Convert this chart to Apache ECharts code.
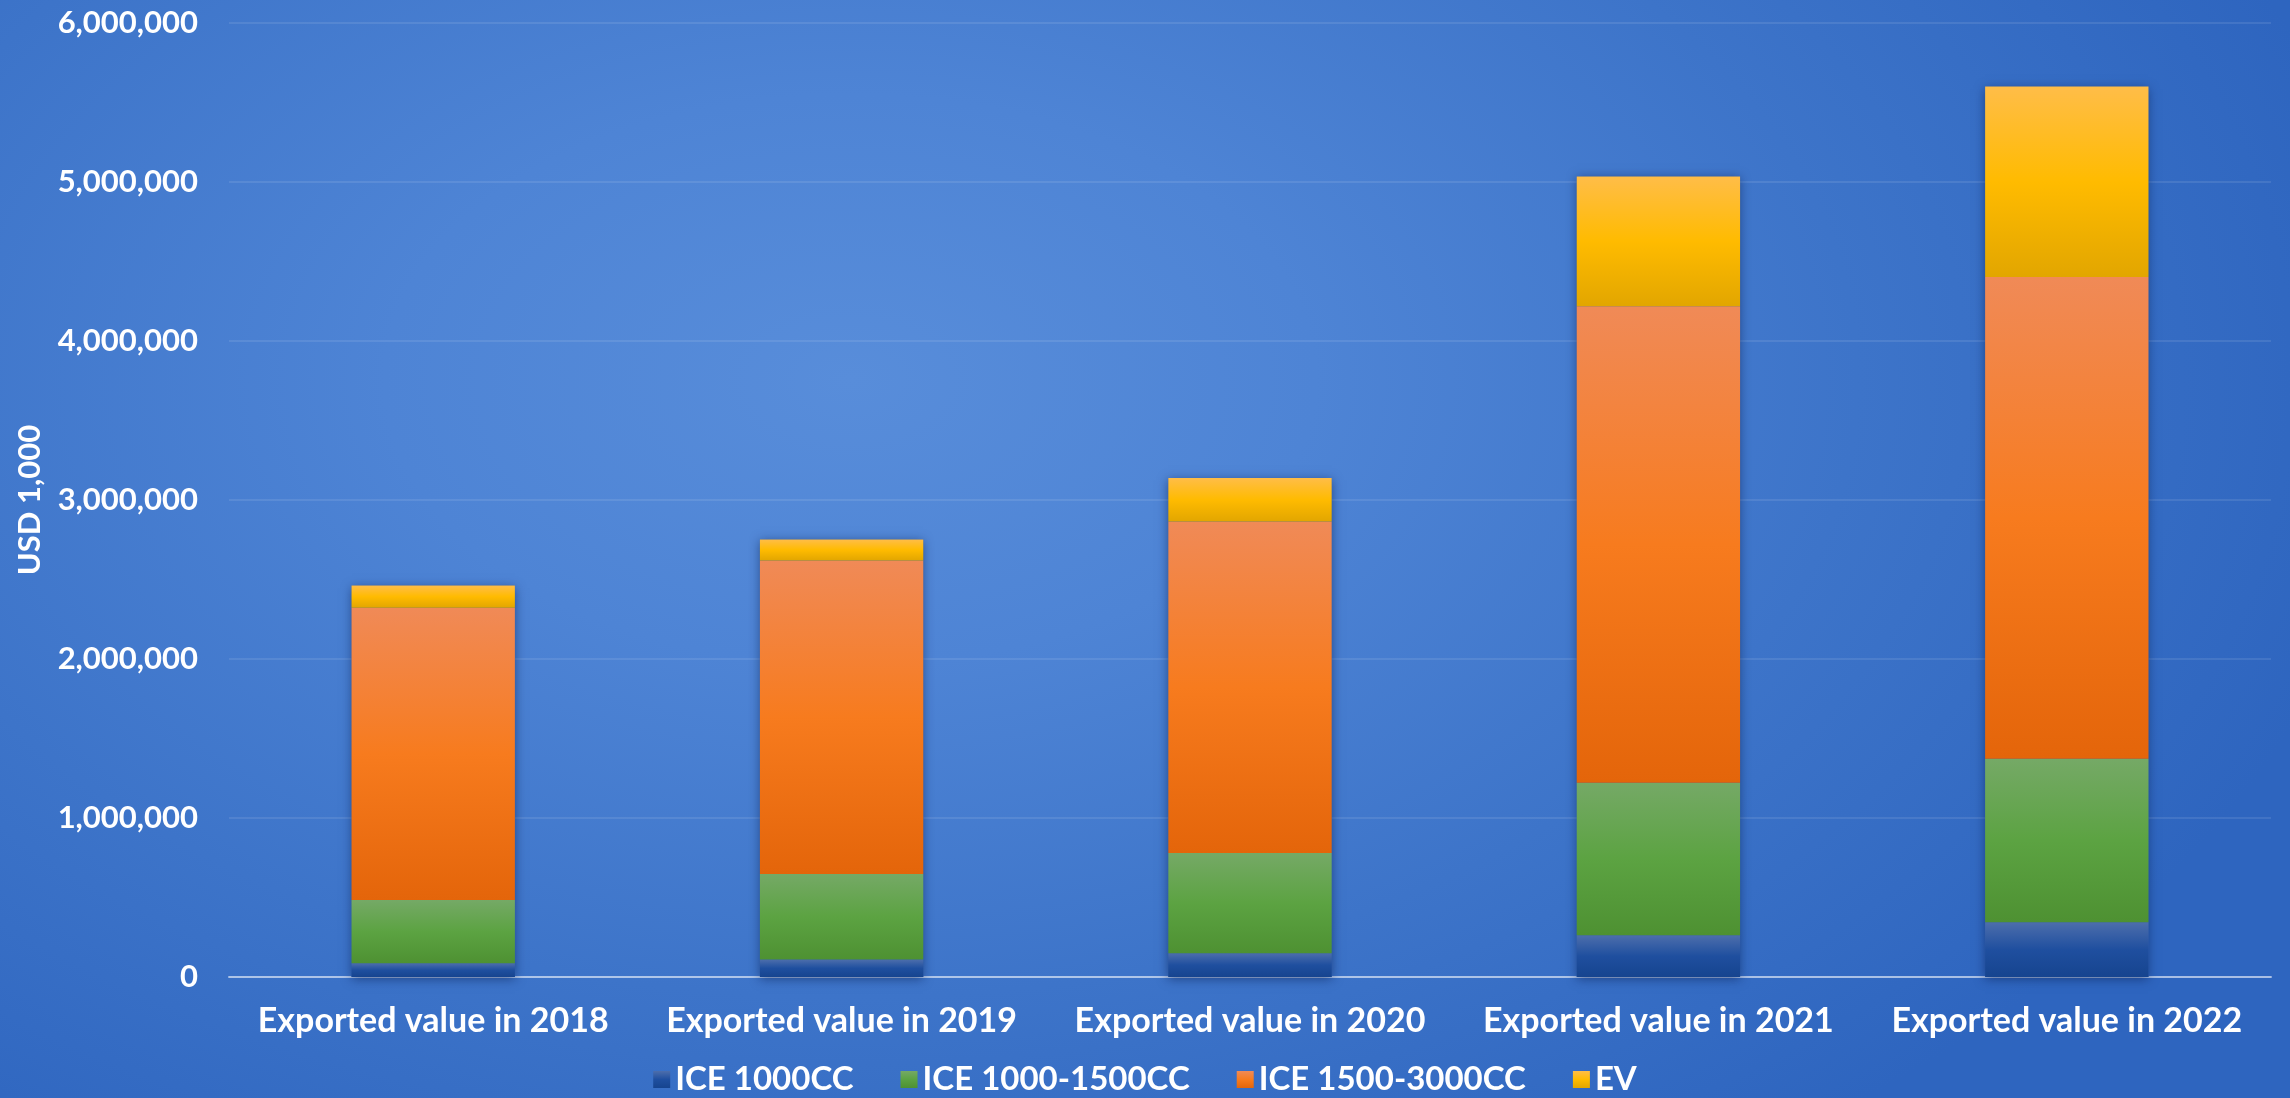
<!DOCTYPE html>
<html>
<head>
<meta charset="utf-8">
<script src="https://cdn.jsdelivr.net/npm/echarts@6/dist/echarts.min.js"></script>
<style>
  html, body { margin: 0; padding: 0; }
  body {
    width: 2290px; height: 1098px; overflow: hidden;
    background: radial-gradient(ellipse 1550px 950px at 850px 380px,
      #588dda 0%, #4e84d5 30%, #3d74c9 65%, #2e65bf 100%);
  }
  #chart { width: 2290px; height: 1098px; }
</style>
</head>
<body>
<div id="chart"></div>
<script>
// Export value by engine class, USD 1,000
const categories = [
  'Exported value in 2018',
  'Exported value in 2019',
  'Exported value in 2020',
  'Exported value in 2021',
  'Exported value in 2022'
];
const seriesNames = ['ICE 1000CC', 'ICE 1000-1500CC', 'ICE 1500-3000CC', 'EV'];
const ice1000 = [87000, 110000, 150000, 263000, 345000];
const ice1000to1500 = [397000, 538000, 630000, 959000, 1027000];
const ice1500to3000 = [1838000, 1972000, 2084000, 2996000, 3030000];
const ev = [140000, 132000, 275000, 817000, 1198000];
const yMin = 0, yMax = 6000000, yStep = 1000000;

const font = 'Lato, "Open Sans", sans-serif';

function vgrad(stops) {
  return new echarts.graphic.LinearGradient(0, 0, 0, 1,
    stops.map((c, i) => ({ offset: i / (stops.length - 1), color: c })));
}
const fills = [
  vgrad(['#4d6eac', '#1f4f9f', '#16448f']),
  vgrad(['#75a966', '#5ca342', '#4e9132']),
  vgrad(['#f08a57', '#f77b1e', '#e4650a']),
  vgrad(['#ffbd48', '#ffbb00', '#e2a600'])
];
const values = [ice1000, ice1000to1500, ice1500to3000, ev];
const totals = categories.map((_, i) => values.reduce((s, arr) => s + arr[i], 0));

const chart = echarts.init(document.getElementById('chart'));

const stacked = seriesNames.map((name, k) => ({
  name: name,
  type: 'bar',
  stack: 'total',
  barWidth: '40%',
  barGap: '-100%',
  z: 3,
  data: values[k],
  itemStyle: { color: fills[k] },
  emphasis: { disabled: true }
}));

chart.setOption({
  backgroundColor: 'transparent',
  animation: false,
  grid: { left: 229, right: 19, top: 23, bottom: 121 },
  legend: {
    data: seriesNames,
    bottom: -3,
    left: 'center',
    icon: 'rect',
    itemWidth: 17,
    itemHeight: 17,
    itemGap: 47,
    textStyle: { color: '#ffffff', fontFamily: font, fontWeight: 'bold', fontSize: 33 }
  },
  xAxis: {
    type: 'category',
    data: categories,
    axisTick: { show: false },
    axisLine: { lineStyle: { color: 'rgba(255,255,255,0.55)', width: 2 } },
    axisLabel: {
      interval: 0,
      color: '#ffffff', fontFamily: font, fontWeight: 'bold', fontSize: 34, margin: 27
    }
  },
  yAxis: {
    type: 'value',
    min: yMin,
    max: yMax,
    interval: yStep,
    name: 'USD 1,000',
    nameLocation: 'middle',
    nameGap: 184,
    nameTextStyle: { color: '#ffffff', fontFamily: font, fontWeight: 'bold', fontSize: 31 },
    axisLine: { show: false },
    axisTick: { show: false },
    splitLine: { lineStyle: { color: 'rgba(255,255,255,0.13)', width: 1.5 } },
    axisLabel: {
      color: '#ffffff', fontFamily: font, fontWeight: 'bold', fontSize: 31, margin: 31,
      formatter: v => v.toLocaleString('en-US')
    }
  },
  series: [
    {
      // soft drop shadow behind each full column
      name: 'column shadow',
      type: 'bar',
      barWidth: '40%',
      barGap: '-100%',
      z: 1,
      silent: true,
      data: totals,
      itemStyle: {
        color: '#2f5fae',
        shadowBlur: 10,
        shadowColor: 'rgba(10,30,80,0.55)',
        shadowOffsetX: 0,
        shadowOffsetY: 2
      },
      emphasis: { disabled: true }
    }
  ].concat(stacked)
});
</script>
</body>
</html>
